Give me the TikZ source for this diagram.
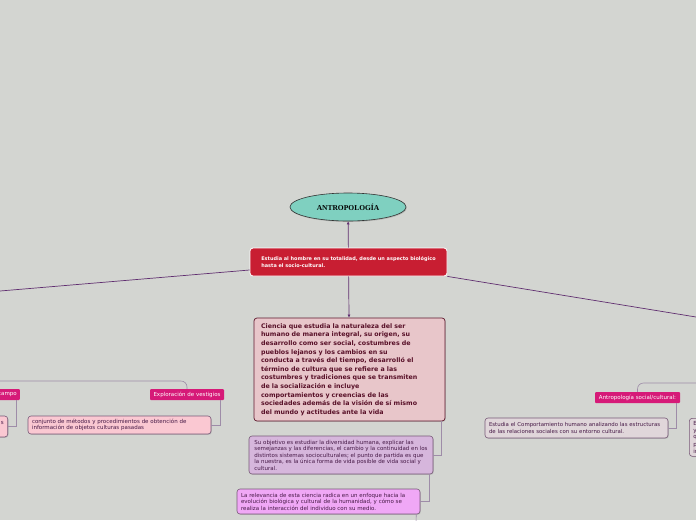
\documentclass[tikz,border=0pt]{standalone}
\usepackage{fontspec}
\setmainfont{DejaVu Sans}
\newfontfamily\titlefont{Liberation Serif}
\usetikzlibrary{arrows.meta,positioning,shapes.geometric,shadows}

\definecolor{bgcol}{RGB}{211,213,209}
\definecolor{linkcol}{RGB}{96,46,112}
\definecolor{subcol}{RGB}{158,140,168}
\definecolor{tealcol}{RGB}{127,208,192}
\definecolor{redcol}{RGB}{200,30,50}
\definecolor{desccol}{RGB}{232,198,202}
\definecolor{descline}{RGB}{95,25,45}
\definecolor{desctext}{RGB}{88,16,40}
\definecolor{lavcol}{RGB}{214,182,220}
\definecolor{violcol}{RGB}{240,168,246}
\definecolor{tagcol}{RGB}{214,26,120}
\definecolor{rosecol}{RGB}{250,200,210}
\definecolor{greycol}{RGB}{224,214,218}
\definecolor{boxline}{RGB}{120,90,120}
\definecolor{boxtext}{RGB}{70,25,70}

\begin{document}
\begin{tikzpicture}[x=1pt, y=-1pt,
  link/.style={draw=linkcol, line width=0.7pt},
  sublink/.style={draw=subcol, line width=0.6pt},
  tip/.style={-{Latex[length=3pt,width=3pt]}},
  box/.style={draw=boxline, rounded corners=3pt, align=left, inner xsep=4pt, inner ysep=2pt,
    line width=0.6pt, text=boxtext, font=\fontsize{5.5}{6.5}\selectfont,
    drop shadow={shadow xshift=0.8pt, shadow yshift=-0.8pt, opacity=0.3}},
  tag/.style={fill=tagcol, text=white, rounded corners=1pt, inner xsep=3pt, inner ysep=0pt,
    minimum height=11pt, font=\fontsize{5.5}{6}\selectfont}
]

\fill[bgcol] (0,0) rectangle (696,520);
\useasboundingbox (0,0) rectangle (696,520);
\clip (0,0) rectangle (696,520);

% main branch
\node[ellipse, draw=black!80, fill=tealcol, line width=0.6pt, minimum width=116pt, minimum height=28pt,
  inner sep=0pt, drop shadow={shadow xshift=0.8pt, shadow yshift=-1pt, opacity=0.35},
  font=\titlefont\bfseries\fontsize{7.5}{9}\selectfont] (title) at (348,207) {ANTROPOLOGÍA};

\node[draw=white, fill=redcol, rounded corners=3pt, line width=0.8pt, text=white, align=left,
  minimum width=197pt, minimum height=28pt,
  font=\bfseries\fontsize{4.95}{6.4}\selectfont] (redbox) at (348.5,262)
  {Estudia al hombre en su totalidad, desde un aspecto biológico\\hasta el socio-cultural.};

\node[box, draw=descline, fill=desccol, text=desctext, line width=0.7pt, minimum width=191pt,
  minimum height=103pt, text width=177pt, inner xsep=7pt, font=\bfseries\fontsize{6.3}{8.6}\selectfont]
  (desc) at (349.5,369.5)
  {Ciencia que estudia la naturaleza del ser\\
   humano de manera integral, su origen, su\\
   desarrollo como ser social, costumbres de\\
   pueblos lejanos y los cambios en su\\
   conducta a través del tiempo, desarrolló el\\
   término de cultura que se refiere a las\\
   costumbres y tradiciones que se transmiten\\
   de la socialización e incluye\\
   comportamientos y creencias de las\\
   sociedades además de la visión de sí mismo\\
   del mundo y actitudes ante la vida};

\node[box, fill=lavcol, minimum width=184pt, minimum height=38pt] (obj) at (341,455)
  {Su objetivo es estudiar la diversidad humana, explicar las\\
   semejanzas y las diferencias, el cambio y la continuidad en los\\
   distintos sistemas socioculturales; el punto de partida es que\\
   la nuestra, es la única forma de vida posible de vida social y\\
   cultural.};

\node[box, fill=violcol, minimum width=183pt, minimum height=25pt, text width=175pt] (relev) at (328.5,501.5)
  {La relevancia de esta ciencia radica en un enfoque hacia la\\
   evolución biológica y cultural de la humanidad, y cómo se\\
   realiza la interacción del individuo con su medio.};

% left side
\node[tag, minimum width=74pt] (explor) at (187,394.5) {Exploración de vestigios};
\node[box, fill=rosecol, minimum width=183pt, minimum height=18pt, text width=175pt] (conj) at (119.5,425)
  {conjunto de métodos y procedimientos de obtención de\\
   información de objetos culturas pasadas};
\node[tag, anchor=east, text width=40pt, align=right] (campo) at (20,394.5) {campo};
\node[box, fill=rosecol, anchor=east, minimum height=21pt, text width=40pt, align=right] (lpink) at (8,426.5)
  {s\\\mbox{}};

% right side
\node[tag, minimum width=85pt] (social) at (637.5,397.5) {Antropología social/cultural:};
\node[box, fill=greycol, minimum width=183pt, minimum height=20pt, text width=175pt,
  font=\fontsize{5.4}{7}\selectfont] (estudia) at (576.5,428)
  {Estudia el Comportamiento humano analizando las estructuras\\
   de las relaciones sociales con su entorno cultural.};
\node[box, fill=greycol, anchor=north west, minimum height=38pt, text width=60pt,
  font=\fontsize{5.6}{6.8}\selectfont] (rpart) at (689,418)
  {E\\y\\q\\[1pt]p\\ir};

\coordinate (offl) at (0,291);
\coordinate (offr) at (696,317);
\coordinate (offlt) at (0,381);
\coordinate (offrt) at (696,383);
\coordinate (offb) at (416,522);

% connectors
\draw[link, tip] (redbox) -- (title);
\draw[link, tip] (redbox) -- (desc);
\draw[link] ([yshift=-8pt]redbox.west) -- (offl);
\draw[link] (redbox.south east) -- (offr);

\draw[sublink] ([xshift=-4pt]desc.south east) |- (obj.east);
\draw[sublink] ([xshift=-4pt]obj.south east) |- (relev.east);
\draw[sublink] ([xshift=-4pt]relev.south east) -- (offb);

\draw[sublink, rounded corners=6pt] (offlt) -| (explor.north);
\draw[sublink] ([xshift=-4pt]explor.south east) |- (conj.east);
\draw[sublink] ([xshift=-4pt]campo.south east) |- (lpink.east);

\draw[sublink, rounded corners=6pt] (social.north) |- (offrt);
\draw[sublink] ([xshift=-4pt]social.south east) |- (estudia.east);

\end{tikzpicture}
\end{document}
